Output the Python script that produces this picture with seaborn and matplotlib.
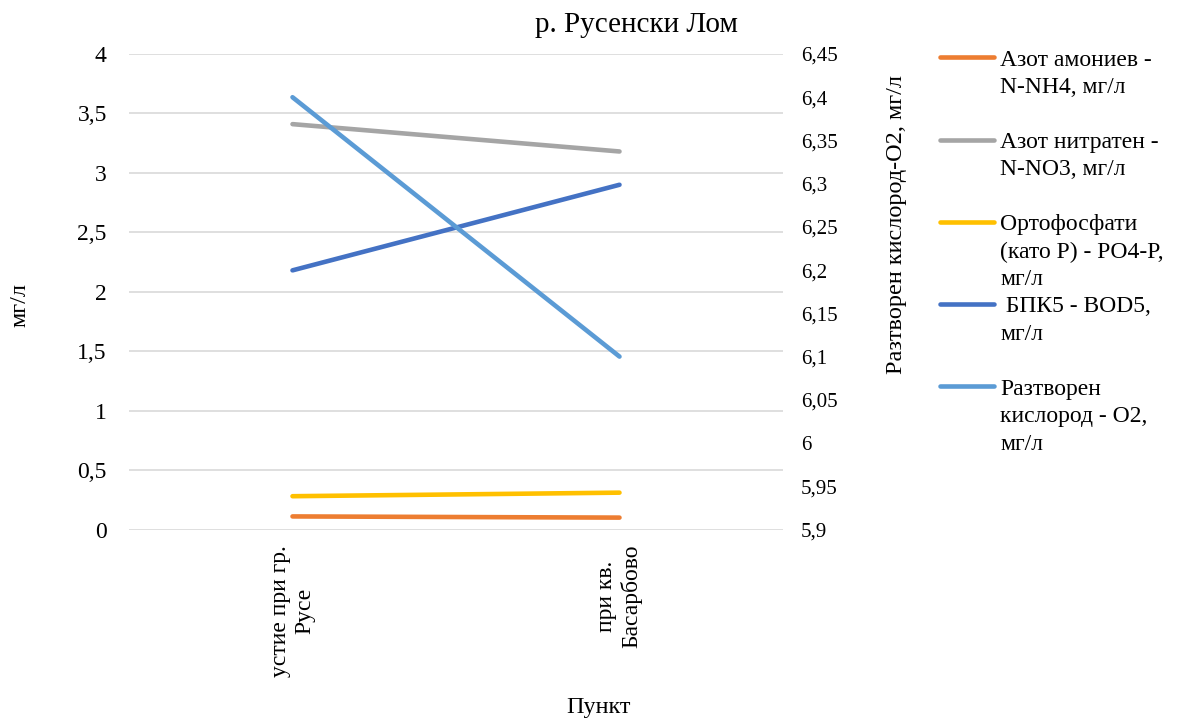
import matplotlib
matplotlib.use("Agg")
import matplotlib.pyplot as plt
import seaborn as sns
import numpy as np
from matplotlib.lines import Line2D

# ---- data ----
categories = ["устие при гр.\nРусе", "при кв.\nБасарбово"]
nh4 = [0.11, 0.10]
no3 = [3.41, 3.18]
po4 = [0.28, 0.31]
bod5 = [2.18, 2.90]
o2 = [6.40, 6.10]

series_names = ["Азот амониев -\nN-NH4, мг/л",
                "Азот нитратен -\nN-NO3, мг/л",
                "Ортофосфати\n(като Р) - PO4-P,\nмг/л",
                " БПК5 - BOD5,\nмг/л",
                "Разтворен\nкислород - О2,\nмг/л"]
colors = ["#ED7D31", "#A5A5A5", "#FFC000", "#4472C4", "#5B9BD5"]

left_ticks = [0, 0.5, 1, 1.5, 2, 2.5, 3, 3.5, 4]
left_ticklabels = ["0", "0,5", "1", "1,5", "2", "2,5", "3", "3,5", "4"]
right_ticks = [5.9, 5.95, 6.0, 6.05, 6.1, 6.15, 6.2, 6.25, 6.3, 6.35, 6.4, 6.45]
right_ticklabels = ["5,9", "5,95", "6", "6,05", "6,1", "6,15", "6,2", "6,25",
                    "6,3", "6,35", "6,4", "6,45"]

sns.set_theme(style="white")
plt.rcParams['font.family'] = ['Liberation Serif', 'DejaVu Serif']
plt.rcParams['text.color'] = '#000000'

fig = plt.figure(figsize=(11.8, 7.18), dpi=100)
W, H = 1180, 718
ax_l, ax_r, ax_t, ax_b = 129, 783, 54, 529.5
ax = fig.add_axes([ax_l / W, 1 - ax_b / H, (ax_r - ax_l) / W, (ax_b - ax_t) / H])
ax2 = ax.twinx()

x = np.arange(len(categories))
lw = 3.3
for vals, c in zip([nh4, no3, po4, bod5], colors[:4]):
    sns.lineplot(x=x, y=vals, ax=ax, color=c, lw=lw, solid_capstyle="round")
sns.lineplot(x=x, y=o2, ax=ax2, color=colors[4], lw=lw, solid_capstyle="round")

ax.set_xlim(-0.5, 1.5)
ax.set_ylim(0, 4)
ax2.set_ylim(5.9, 6.45)

ax.set_yticks(left_ticks)
ax.set_yticklabels(left_ticklabels)
ax2.set_yticks(right_ticks)
ax2.set_yticklabels(right_ticklabels)
ax.set_xticks(x)
ax.set_xticklabels(categories, rotation=90, va="top", ha="center",
                   multialignment="center")

ax.yaxis.grid(True, color="#D9D9D9", lw=1.2)
ax.xaxis.grid(False)
ax2.grid(False)
for a in (ax, ax2):
    for s in a.spines.values():
        s.set_visible(False)

ax.tick_params(axis="y", length=0, pad=16, labelsize=17, labelcolor="#000000")
ax.tick_params(axis="x", length=0, pad=11, labelsize=17, labelcolor="#000000")
ax2.tick_params(axis="y", length=0, pad=13, labelsize=15, labelcolor="#000000")

ax.set_xlabel("Пункт", fontsize=17.5, color="#000000")
ax.xaxis.set_label_coords((598 - ax_l) / (ax_r - ax_l), (ax_b - 697) / (ax_b - ax_t))
ax.set_ylabel("мг/л", fontsize=17.5, color="#000000")
ax.yaxis.set_label_coords((30 - ax_l) / (ax_r - ax_l), (ax_b - 305) / (ax_b - ax_t))
ax2.set_ylabel("Разтворен кислород-О2, мг/л", fontsize=17.5, color="#000000",
               rotation=90)
ax2.yaxis.set_label_coords((886 - ax_l) / (ax_r - ax_l), (ax_b - 225) / (ax_b - ax_t))

fig.text(636.5 / W, 1 - 25 / H, "р. Русенски Лом", ha="center", va="center",
         fontsize=21, color="#000000")

# legend rows: first line of each entry carries the handle
handles, labels = [], []
blank = Line2D([], [], color="none")
row_plan = [0, 0, None, 1, 1, None, 2, 2, 2, 3, 3, None, 4, 4, 4]
name_lines = [n.split("\n") for n in series_names]
counters = [0] * 5
for r in row_plan:
    if r is None:
        handles.append(blank)
        labels.append(" ")
        continue
    k = counters[r]
    if k == 0:
        handles.append(Line2D([], [], color=colors[r], lw=lw, solid_capstyle="round"))
    else:
        handles.append(blank)
    labels.append(name_lines[r][k])
    counters[r] += 1

leg = fig.legend(handles, labels, loc="upper left",
                 bbox_to_anchor=(940 / W, 1 - 49 / H), frameon=False,
                 fontsize=17, handlelength=2.29, handletextpad=0.26,
                 labelspacing=0.25, borderpad=0, borderaxespad=0)
for t in leg.get_texts():
    t.set_color("#000000")

fig.savefig("out.png", dpi=100)
